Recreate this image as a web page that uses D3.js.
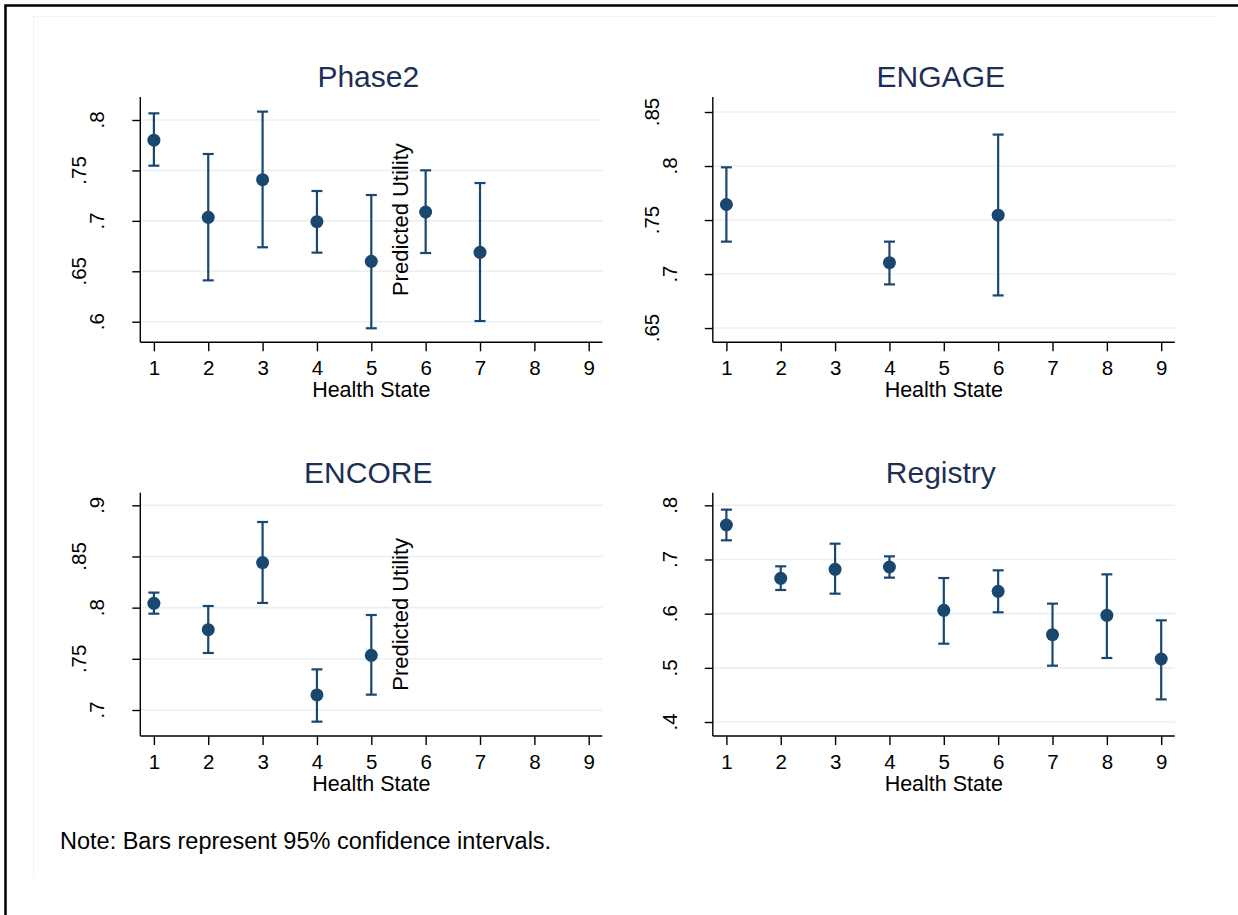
<!DOCTYPE html>
<html><head><meta charset="utf-8">
<script src="https://cdn.jsdelivr.net/npm/d3@7"></script>
<style>body{margin:0;background:#fff}svg{display:block;font-family:"Liberation Sans",Arial,sans-serif}</style>
</head><body><svg id="c" width="1238" height="915"></svg>
<script>
const xTicks = [1,2,3,4,5,6,7,8,9];

const phase2States = [1,2,3,4,5,6,7];
const phase2Est = [0.780, 0.7035, 0.7408, 0.6992, 0.6599, 0.7088, 0.6688];
const phase2Lo  = [0.7547, 0.641, 0.6738, 0.6685, 0.5935, 0.6681, 0.6007];
const phase2Hi  = [0.8066, 0.7663, 0.8083, 0.7296, 0.7256, 0.7501, 0.7375];
const phase2Ticks = [0.6, 0.65, 0.7, 0.75, 0.8];
const phase2Labels = [".6", ".65", ".7", ".75", ".8"];

const engageStates = [1,4,6];
const engageEst = [0.7644, 0.7105, 0.7545];
const engageLo  = [0.730, 0.6904, 0.6802];
const engageHi  = [0.7988, 0.730, 0.8291];
const engageTicks = [0.65, 0.7, 0.75, 0.8, 0.85];
const engageLabels = [".65", ".7", ".75", ".8", ".85"];

const encoreStates = [1,2,3,4,5];
const encoreEst = [0.8042, 0.7785, 0.844, 0.7147, 0.7534];
const encoreLo  = [0.7941, 0.7557, 0.8046, 0.6886, 0.715];
const encoreHi  = [0.8147, 0.8016, 0.8837, 0.7397, 0.7928];
const encoreTicks = [0.7, 0.75, 0.8, 0.85, 0.9];
const encoreLabels = [".7", ".75", ".8", ".85", ".9"];

const registryStates = [1,2,3,4,5,6,7,8,9];
const registryEst = [0.7637, 0.6652, 0.6818, 0.6862, 0.6062, 0.6412, 0.5612, 0.5969, 0.5163];
const registryLo  = [0.7354, 0.6437, 0.6369, 0.6665, 0.5446, 0.6025, 0.504, 0.5182, 0.4418];
const registryHi  = [0.792, 0.6874, 0.7292, 0.7058, 0.6658, 0.68, 0.6185, 0.6726, 0.5877];
const registryTicks = [0.4, 0.5, 0.6, 0.7, 0.8];
const registryLabels = [".4", ".5", ".6", ".7", ".8"];

const titles = ["Phase2", "ENGAGE", "ENCORE", "Registry"];
const xTitle = "Health State";
const yTitle = "Predicted Utility";
const note = "Note: Bars represent 95% confidence intervals.";

const NAVY = "#1a476f", GRID = "#e8f0f3", TITLE = "#1e2f55";

const svg = d3.select("#c");
svg.append("path").attr("d","M5.5,915 V5.5 H1238").attr("fill","none").attr("stroke","#000").attr("stroke-width",2.5);
svg.append("path").attr("d","M33.5,877 V16.5 H1217").attr("fill","none").attr("stroke","#eef3f6").attr("stroke-width",1);

const panels = [
  {title:titles[0], s:phase2States, e:phase2Est, lo:phase2Lo, hi:phase2Hi, t:phase2Ticks, tl:phase2Labels,
   dom:[0.5796,0.8228], left:140.3, top:97, bottom:342.3, ytitle:true},
  {title:titles[1], s:engageStates, e:engageEst, lo:engageLo, hi:engageHi, t:engageTicks, tl:engageLabels,
   dom:[0.6368,0.8639], left:712.8, top:97, bottom:342.3, ytitle:false},
  {title:titles[2], s:encoreStates, e:encoreEst, lo:encoreLo, hi:encoreHi, t:encoreTicks, tl:encoreLabels,
   dom:[0.6746,0.9123], left:140.3, top:492.7, bottom:736, ytitle:true},
  {title:titles[3], s:registryStates, e:registryEst, lo:registryLo, hi:registryHi, t:registryTicks, tl:registryLabels,
   dom:[0.3742,0.8233], left:712.8, top:492.7, bottom:736, ytitle:false}
];
const W = 462;

panels.forEach(p => {
  const g = svg.append("g");
  const x = d3.scaleLinear().domain([0.75, 9.25]).range([p.left, p.left + W]);
  const y = d3.scaleLinear().domain(p.dom).range([p.bottom, p.top]);

  g.selectAll(".grid").data(p.t).join("line")
    .attr("x1", p.left).attr("x2", p.left + W)
    .attr("y1", d => y(d)).attr("y2", d => y(d))
    .attr("stroke", GRID).attr("stroke-width", 1.6);

  const ya = g.append("g").attr("transform", `translate(${p.left},0)`)
    .call(d3.axisLeft(y).tickValues(p.t).tickSize(8).tickFormat(""));
  ya.select(".domain").attr("d", `M0,${p.bottom}V${p.top}`).attr("stroke","#000").attr("stroke-width",1.4);
  ya.selectAll(".tick line").attr("stroke","#000").attr("stroke-width",1.4);
  g.selectAll(".ylab").data(p.t).join("text")
    .attr("transform", (d,i) => `translate(${p.left - (p.tl[i].length > 2 ? 54 : 36)},${y(d)}) rotate(-90)`)
    .attr("text-anchor","middle").attr("font-size", 20.5).attr("fill","#000")
    .text((d,i) => p.tl[i]);

  const xa = g.append("g").attr("transform", `translate(0,${p.bottom})`)
    .call(d3.axisBottom(x).tickValues(xTicks).tickSize(9).tickFormat(d3.format("d")));
  xa.select(".domain").attr("d", `M${p.left},0H${p.left + W}`).attr("stroke","#000").attr("stroke-width",1.4);
  xa.selectAll(".tick line").attr("stroke","#000").attr("stroke-width",1.4);
  xa.selectAll(".tick text").attr("font-size",20.5).attr("fill","#000").attr("font-family","Liberation Sans, Arial, sans-serif")
    .attr("y", 33).attr("dy", null);

  g.append("text").attr("x", x(5)).attr("y", p.bottom + 55).attr("text-anchor","middle")
    .attr("font-size", 21.5).attr("fill","#000").text(xTitle);

  g.append("text").attr("x", x(5) - 3).attr("y", p.top - 10).attr("text-anchor","middle")
    .attr("font-size", 30).attr("fill", TITLE).text(p.title);

  if (p.ytitle) {
    g.append("text").attr("transform", `translate(${x(5.68)},${(p.top + p.bottom) / 2}) rotate(-90)`)
      .attr("text-anchor","middle").attr("font-size", 22).attr("fill","#000").text(yTitle);
  }

  const idx = d3.range(p.s.length);
  g.selectAll(".bar").data(idx).join("line")
    .attr("x1", i => x(p.s[i])).attr("x2", i => x(p.s[i]))
    .attr("y1", i => y(p.lo[i])).attr("y2", i => y(p.hi[i]))
    .attr("stroke", NAVY).attr("stroke-width", 2.2);
  ["lo","hi"].forEach(k => {
    g.selectAll(".cap"+k).data(idx).join("line")
      .attr("x1", i => x(p.s[i]) - 5.5).attr("x2", i => x(p.s[i]) + 5.5)
      .attr("y1", i => y(p[k][i])).attr("y2", i => y(p[k][i]))
      .attr("stroke", NAVY).attr("stroke-width", 2.2);
  });
  g.selectAll(".pt").data(idx).join("circle")
    .attr("cx", i => x(p.s[i])).attr("cy", i => y(p.e[i])).attr("r", 6.5)
    .attr("fill", NAVY);
});

svg.append("text").attr("x", 60).attr("y", 849).attr("font-size", 23.5).attr("fill","#000").text(note);
</script></body></html>
